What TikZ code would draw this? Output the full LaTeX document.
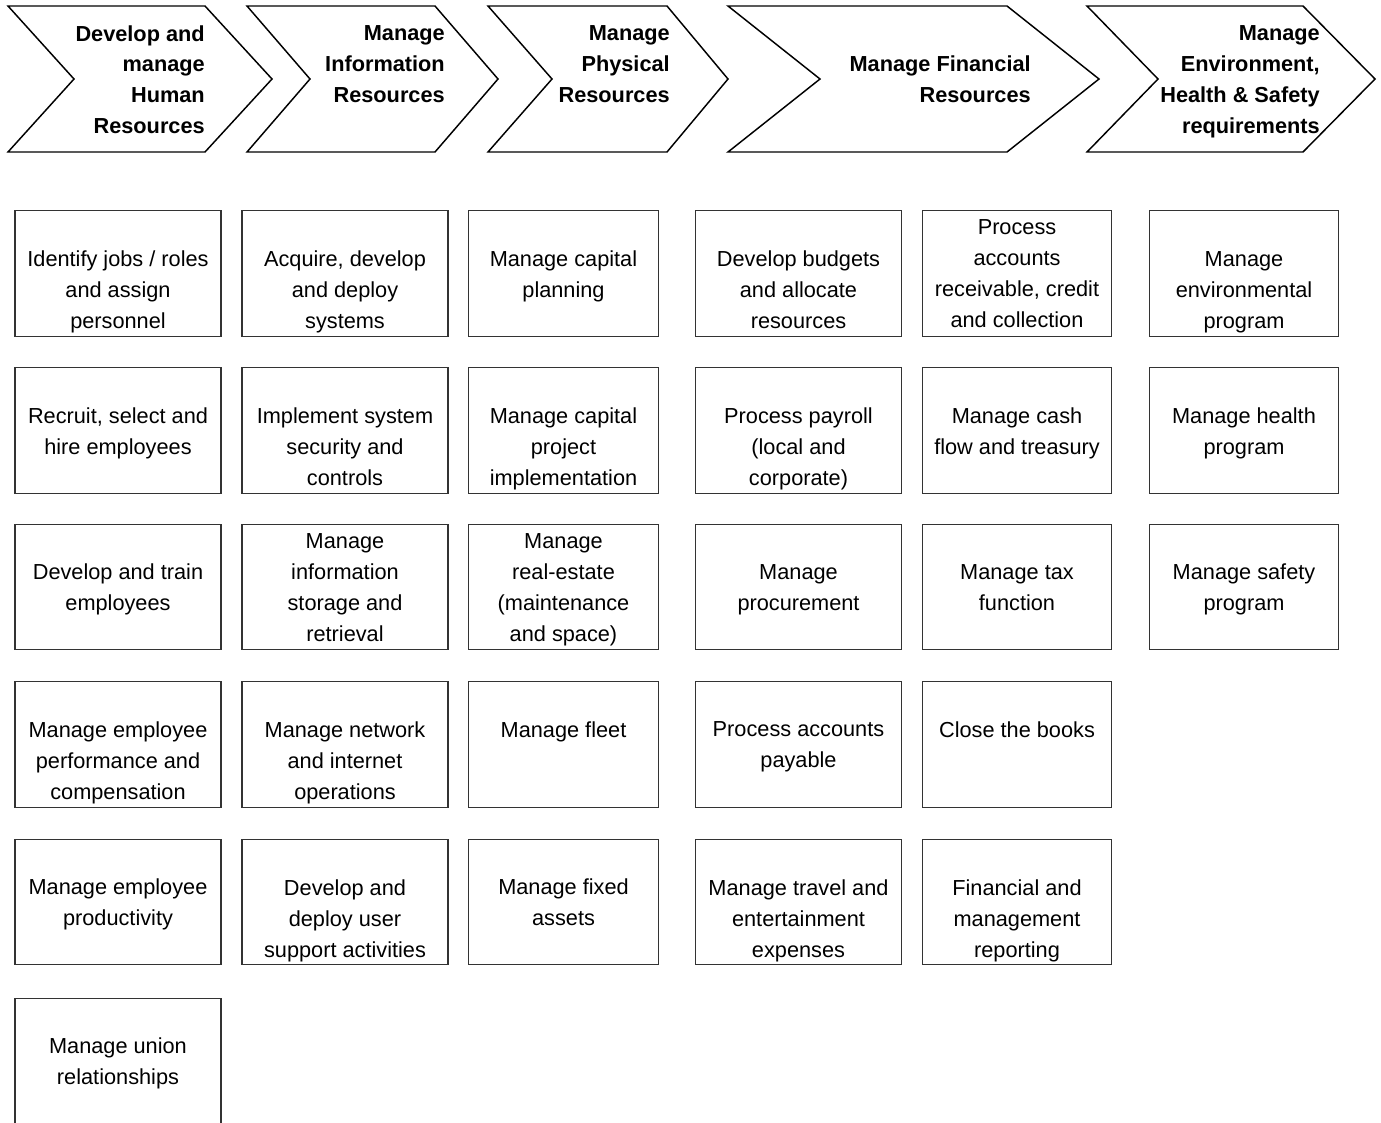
\documentclass[tikz,border=0pt]{standalone}
\usepackage{fontspec}
\setmainfont{Liberation Sans}
\newcommand\pbox[4]{%
  \node[#1] (#2) at (#3) {};
  \node[txt] (#2t) at ([yshift=-3.75pt]#2.center) {#4};}
\newcommand\pboxd[4]{%
  \node[#1] (#2) at (#3) {};
  \node[txt] (#2t) at ([yshift=-15.75pt]#2.center) {#4};}
\begin{document}
\begin{tikzpicture}[x=0.75pt,y=-0.75pt,
  chev/.style={draw=black,line width=1.1pt,fill=white,line join=miter},
  hdr/.style={inner sep=0pt,anchor=east,align=right,
    font=\fontsize{16.3}{23.1}\selectfont\bfseries,
    execute at begin node=\strut,execute at end node=\strut},
  box/.style={draw=black!80,line width=0.9pt,inner sep=0pt,
    minimum height=94pt},
  txt/.style={inner sep=0pt,align=center,
    font=\fontsize{16.3}{23.2}\selectfont,
    execute at begin node=\strut,execute at end node=\strut},
  wide/.style={box,minimum width=154.5pt},
  narrow/.style={box,minimum width=142pt}]
\useasboundingbox (0,0) rectangle (1381,1122);
\clip (0,0) rectangle (1381,1122);
\fill[white] (0,0) rectangle (1381,1122);
% chevrons
\draw[chev] (8,6) -- (205,6) -- (272,79) -- (205,152) -- (8,152) -- (74,79) -- cycle;
\draw[chev] (247,6) -- (435,6) -- (498,79) -- (435,152) -- (247,152) -- (310,79) -- cycle;
\draw[chev] (488,6) -- (667,6) -- (728,79) -- (667,152) -- (488,152) -- (552,79) -- cycle;
\draw[chev] (728,6) -- (1007,6) -- (1099,79) -- (1007,152) -- (728,152) -- (820,79) -- cycle;
\draw[chev] (1087,6) -- (1303,6) -- (1375,79) -- (1303,152) -- (1087,152) -- (1158,79) -- cycle;
\node[hdr] (h1) at (205,84) {Develop and\\manage\\Human\\Resources};
\node[hdr] (h2) at (445,68.5) {Manage\\Information\\Resources};
\node[hdr] (h3) at (670,68.5) {Manage\\Physical\\Resources};
\node[hdr] (h4) at (1031,84) {Manage Financial\\Resources};
\node[hdr] (h5) at (1320,84) {Manage\\Environment,\\Health \& Safety\\requirements};
% column 1
\pboxd{wide}{b11}{118,273.5}{Identify jobs / roles\\and assign\\personnel}
\pbox{wide}{b12}{118,430.5}{Recruit, select and\\hire employees}
\pbox{wide}{b13}{118,587}{Develop and train\\employees}
\pboxd{wide}{b14}{118,744.5}{Manage employee\\performance and\\compensation}
\pbox{wide}{b15}{118,902}{Manage employee\\productivity}
\node[wide] (b16) at (118,1061) {};
\node[txt] (b16t) at (118,1066) {Manage union\\relationships};
% column 2
\pboxd{wide}{b21}{345,273.5}{Acquire, develop\\and deploy\\systems}
\pboxd{wide}{b22}{345,430.5}{Implement system\\security and\\controls}
\pbox{wide}{b23}{345,587}{Manage\\information\\storage and\\retrieval}
\pboxd{wide}{b24}{345,744.5}{Manage network\\and internet\\operations}
\pboxd{wide}{b25}{345,902}{Develop and\\deploy user\\support activities}
% column 3
\pbox{narrow}{b31}{563.5,273.5}{Manage capital\\planning}
\pboxd{narrow}{b32}{563.5,430.5}{Manage capital\\project\\implementation}
\pbox{narrow}{b33}{563.5,587}{Manage\\real-estate\\(maintenance\\and space)}
\pbox{narrow}{b34}{563.5,744.5}{Manage fleet\\~}
\pbox{narrow}{b35}{563.5,902}{Manage fixed\\assets}
% column 4
\pboxd{wide}{b41}{798.5,273.5}{Develop budgets\\and allocate\\resources}
\pboxd{wide}{b42}{798.5,430.5}{Process payroll\\(local and\\corporate)}
\pbox{wide}{b43}{798.5,587}{Manage\\procurement}
\pbox{wide}{b44}{798.5,744.5}{Process accounts\\payable}
\pboxd{wide}{b45}{798.5,902}{Manage travel and\\entertainment\\expenses}
% column 5
\pbox{narrow}{b51}{1017,273.5}{Process\\accounts\\receivable, credit\\and collection}
\pbox{narrow}{b52}{1017,430.5}{Manage cash\\flow and treasury}
\pbox{narrow}{b53}{1017,587}{Manage tax\\function}
\pbox{narrow}{b54}{1017,744.5}{Close the books\\~}
\pboxd{narrow}{b55}{1017,902}{Financial and\\management\\reporting}
% column 6
\pboxd{narrow}{b61}{1244,273.5}{Manage\\environmental\\program}
\pbox{narrow}{b62}{1244,430.5}{Manage health\\program}
\pbox{narrow}{b63}{1244,587}{Manage safety\\program}
\end{tikzpicture}
\end{document}
